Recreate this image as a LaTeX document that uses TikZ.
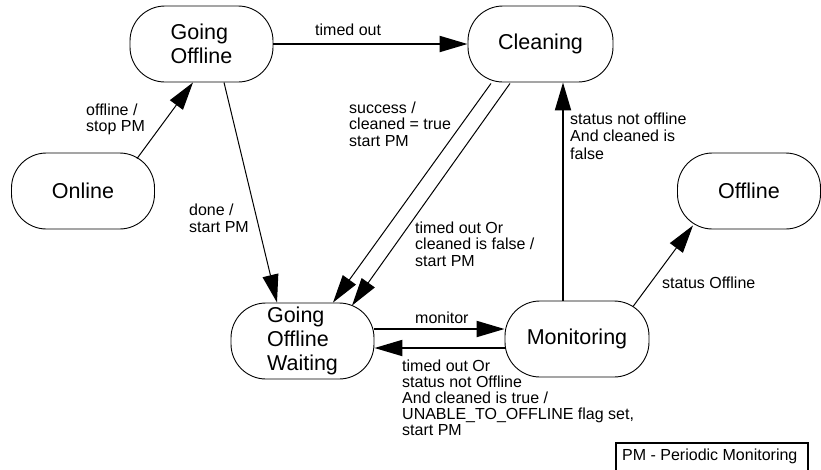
\documentclass[tikz,border=0pt]{standalone}
\usepackage{fontspec}
\setmainfont{Liberation Sans}
\usetikzlibrary{arrows.meta,calc}
\begin{document}
\begin{tikzpicture}[x=1pt,y=-1pt,
  state/.style={draw,line width=0.9pt,rounded corners=35pt,minimum width=143pt,minimum height=76pt,inner sep=0pt,align=left,font=\fontsize{21.5}{24}\selectfont},
  lbl/.style={anchor=base west,align=left,inner sep=0pt,font=\fontsize{16}{16.5}\selectfont},
  tarrow/.style={line width=1pt,-{Triangle[length=28pt,width=16pt]}},
  karrow/.style={line width=2pt,-{Triangle[length=28pt,width=16pt]}}]
\useasboundingbox (0,0) rectangle (821,469);
% states
\node[state] (GO) at (201.5,44) {Going\\Offline};
\node[state] (ON) at (83,191) {Online};
\node[state,minimum width=145pt] (CL) at (540.5,44) {Cleaning};
\node[state] (OF) at (749,191) {Offline};
\node[state] (GOW) at (302.5,341) {Going\\Offline\\Waiting};
\node[state,minimum width=144pt] (MO) at (577,339) {Monitoring};
% transitions
\draw[tarrow] ($(ON.north)+(54,6)$) -- ($(GO.south)+(-8.5,0)$);
\draw[karrow] (GO.east) -- (GO.east -| CL.west);
\draw[tarrow] ($(GO.south)+(22.5,0)$) -- ($(GOW.north)+(-25.5,0)$);
\draw[tarrow] ($(CL.south)+(-49.5,1)$) -- ($(GOW.north)+(30.5,0)$);
\draw[tarrow] ($(CL.south)+(-30.5,1)$) -- ($(GOW.north)+(49.5,3)$);
\draw[karrow] ($(MO.north)+(-14,0)$) coordinate (m1) -- (m1 |- CL.south);
\draw[tarrow] ($(MO.north)+(56,6)$) -- ($(OF.south)+(-56,-4)$);
\draw[karrow] ($(GOW.east)+(0,-12)$) coordinate (g1) -- (g1 -| MO.west);
\draw[karrow] ($(MO.west)+(0,9)$) coordinate (m2) -- (m2 -| GOW.east);
% labels (anchor = baseline of last line)
\node[lbl] (l1) at (86,131.5) {offline /\\stop PM};
\node[lbl] (l2) at (315,35) {timed out};
\node[lbl] (l3) at (349,146) {success /\\cleaned = true\\start PM};
\node[lbl] (l4) at (189,232) {done /\\start PM};
\node[lbl,font=\fontsize{16}{17.5}\selectfont] (l5) at (570,159) {status not offline\\And cleaned is\\false};
\node[lbl] (l6) at (415,266) {timed out Or\\cleaned is false /\\start PM};
\node[lbl] (l7) at (662,288) {status Offline};
\node[lbl] (l8) at (415,323) {monitor};
\node[lbl,font=\fontsize{16}{16}\selectfont] (l9) at (402,435.5) {timed out Or\\status not Offline\\And cleaned is true /\\UNABLE\_TO\_OFFLINE flag set,\\start PM};
% legend
\node[draw,line width=1.8pt,anchor=north west,minimum width=192pt,minimum height=30pt,inner sep=0pt] (pm) at (615,442) {};
\node[lbl] (pmt) at (622,460) {PM - Periodic Monitoring};
\end{tikzpicture}
\end{document}
